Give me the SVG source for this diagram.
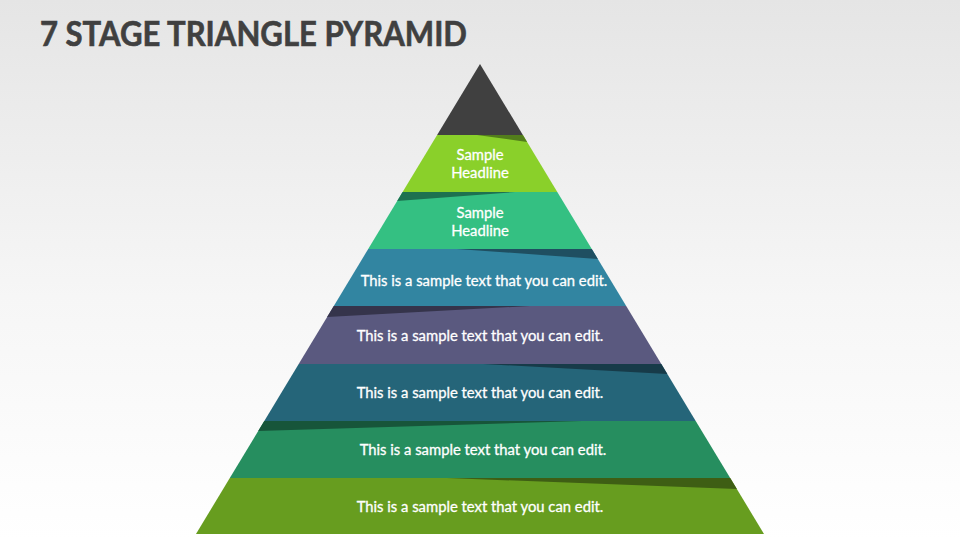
<svg xmlns="http://www.w3.org/2000/svg" width="960" height="540" viewBox="0 0 960 540">
  <defs>
    <linearGradient id="bg" x1="0" y1="0" x2="0" y2="1">
      <stop offset="0" stop-color="#e5e5e5"/>
      <stop offset="0.55" stop-color="#f6f6f6"/>
      <stop offset="1" stop-color="#ffffff"/>
    </linearGradient>
    <style>
      .title { font-family: Lato, "Liberation Sans", sans-serif; font-weight: bold; font-size: 34px; fill: #404040; stroke: #404040; stroke-width: 0.6px; }
      .lbl { font-family: Lato, "Liberation Sans", sans-serif; font-size: 14.8px; fill: #ffffff; stroke: #ffffff; stroke-width: 0.3px; text-anchor: middle; }
    </style>
  </defs>
  <rect x="0" y="0" width="960" height="540" fill="url(#bg)"/>
  <text class="title" x="40" y="46" textLength="427" lengthAdjust="spacingAndGlyphs">7 STAGE TRIANGLE PYRAMID</text>

  <g id="tip">
    <polygon points="480,64 437.1,135 522.9,135" fill="#404040"/>
  </g>

  <g id="stage1">
    <polygon points="437.1,135 522.9,135 557.3,192 402.6,192" fill="#8ad02a"/>
    <polygon points="477,135 522.9,135 527.1,142" fill="#527d1b"/>
    <text class="lbl" x="480" y="160">Sample</text>
    <text class="lbl" x="480" y="178">Headline</text>
  </g>

  <g id="stage2">
    <polygon points="402.6,192 557.3,192 591.8,249 368.2,249" fill="#34c082"/>
    <polygon points="402.6,192 515,192 397.2,201" fill="#1d7150"/>
    <text class="lbl" x="480" y="218">Sample</text>
    <text class="lbl" x="480" y="236">Headline</text>
  </g>

  <g id="stage3">
    <polygon points="368.2,249 591.8,249 626.2,306 333.8,306" fill="#3285a1"/>
    <polygon points="457,249 591.8,249 597.8,259" fill="#1f4f61"/>
    <text class="lbl" x="484" y="286">This is a sample text that you can edit.</text>
  </g>

  <g id="stage4">
    <polygon points="333.8,306 626.2,306 661.3,364 298.7,364" fill="#5a597f"/>
    <polygon points="333.8,306 530,306 327.1,317" fill="#35344b"/>
    <text class="lbl" x="480" y="341">This is a sample text that you can edit.</text>
  </g>

  <g id="stage5">
    <polygon points="298.7,364 661.3,364 695.7,421 264.3,421" fill="#256579"/>
    <polygon points="483,364 661.3,364 667.3,374" fill="#173b49"/>
    <text class="lbl" x="480" y="398">This is a sample text that you can edit.</text>
  </g>

  <g id="stage6">
    <polygon points="264.3,421 695.7,421 730.2,478 229.8,478" fill="#268e5f"/>
    <polygon points="264.3,421 582,421 258.2,431" fill="#17553a"/>
    <text class="lbl" x="483" y="455">This is a sample text that you can edit.</text>
  </g>

  <g id="stage7">
    <polygon points="229.8,478 730.2,478 764,534 196,534" fill="#679d1f"/>
    <polygon points="447,478 730.2,478 736.9,489" fill="#3e5e14"/>
    <text class="lbl" x="480" y="512">This is a sample text that you can edit.</text>
  </g>

  <g id="connectors"/>
</svg>
